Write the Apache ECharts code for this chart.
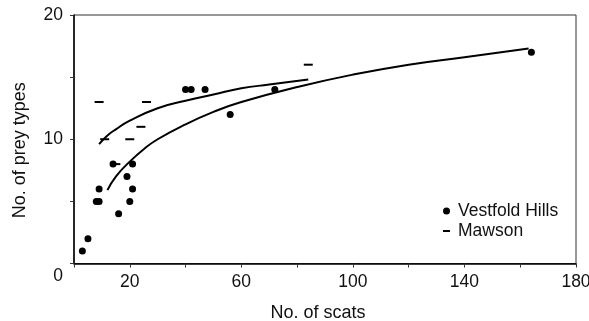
<!DOCTYPE html>
<html>
<head>
<meta charset="utf-8">
<script src="https://cdn.jsdelivr.net/npm/echarts@6/dist/echarts.min.js"></script>
<style>
html,body{margin:0;padding:0;background:#fff;}
#chart{width:589px;height:321px;}
</style>
</head>
<body>
<div id="chart"></div>
<script>
// Vestfold Hills observations
var vestfoldX = [3, 5, 8, 9, 9, 14, 16, 19, 20, 21, 21, 40, 42, 47, 56, 72, 164];
var vestfoldY = [1, 2, 5, 5, 6, 8, 4, 7, 5, 6, 8, 14, 14, 14, 12, 14, 17];
// Mawson observations
var mawsonX = [9, 26, 24, 11, 20, 15, 84];
var mawsonY = [13, 13, 11, 10, 10, 8, 16];
// fitted curves
var vestfoldFitX = [12, 15, 20, 25, 30, 40, 50, 60, 80, 100, 120, 140, 163];
var vestfoldFitY = [5.9, 7.0, 8.2, 9.2, 10.0, 11.2, 12.2, 13.0, 14.2, 15.2, 16.0, 16.6, 17.3];
var mawsonFitX = [9, 12, 15, 20, 30, 40, 50, 60, 70, 84];
var mawsonFitY = [9.6, 10.3, 10.8, 11.5, 12.5, 13.1, 13.6, 14.1, 14.4, 14.8];
// tick labels
var xTickLabels = [20, 60, 100, 140, 180];
var yTickLabels = [0, 10, 20];

function pairs(xs, ys) { return xs.map(function (x, i) { return [x, ys[i]]; }); }

var FONT = '"Liberation Sans", Arial, sans-serif';
var FS = 17.5;
var TXT = '#111';

var chart = echarts.init(document.getElementById('chart'));
chart.setOption({
  animation: false,
  backgroundColor: '#fff',
  textStyle: { fontFamily: FONT, color: TXT },
  grid: { left: 74, right: 13, top: 15, bottom: 57.5, show: true, borderColor: '#333', borderWidth: 1,
          containLabel: false, outerBoundsMode: 'none' },
  xAxis: {
    type: 'value', min: 0, max: 180, interval: 20,
    name: 'No. of scats', nameLocation: 'middle', nameGap: 41,
    nameTextStyle: { fontFamily: FONT, fontSize: 18, color: TXT, padding: [0, 14, 0, 0] },
    axisLine: { show: true, lineStyle: { color: '#000', width: 1.5 } },
    axisTick: { show: true, inside: false, length: 4, lineStyle: { color: '#333' } },
    axisLabel: {
      margin: 10, fontFamily: FONT, fontSize: FS, color: TXT,
      formatter: function (v) { return xTickLabels.indexOf(v) >= 0 ? String(v) : ''; }
    },
    splitLine: { show: false }
  },
  yAxis: {
    type: 'value', min: 0, max: 20, interval: 5,
    name: 'No. of prey types', nameLocation: 'middle', nameGap: 45, nameRotate: 90,
    nameTextStyle: { fontFamily: FONT, fontSize: 18, color: TXT, padding: [0, 22, 0, 0] },
    axisLine: { show: true, lineStyle: { color: '#000', width: 1.5 } },
    axisTick: { show: true, inside: false, length: 4, lineStyle: { color: '#333' } },
    axisLabel: {
      margin: 11, fontFamily: FONT, fontSize: FS, color: TXT,
      formatter: function (v) {
        if (yTickLabels.indexOf(v) < 0) return '';
        return v === 0 ? '{z|0}' : String(v);
      },
      rich: { z: { fontFamily: FONT, fontSize: FS, color: TXT, padding: [26, 0, 0, 0] } }
    },
    splitLine: { show: false }
  },
  legend: [
    {
      data: ['Vestfold Hills'], orient: 'vertical', left: 438, top: 196,
      icon: 'circle', itemWidth: 7, itemHeight: 7,
      textStyle: { fontFamily: FONT, fontSize: FS, color: TXT, lineHeight: 20, padding: [0, 0, 0, 3] }
    },
    {
      data: ['Mawson'], orient: 'vertical', left: 438, top: 216,
      icon: 'rect', itemWidth: 7, itemHeight: 2,
      textStyle: { fontFamily: FONT, fontSize: FS, color: TXT, lineHeight: 20, padding: [0, 0, 0, 3] }
    }
  ],
  series: [
    {
      name: 'Vestfold fit', type: 'line', smooth: true, showSymbol: false, symbol: 'none',
      lineStyle: { color: '#000', width: 2 }, data: pairs(vestfoldFitX, vestfoldFitY), z: 2
    },
    {
      name: 'Mawson fit', type: 'line', smooth: true, showSymbol: false, symbol: 'none',
      lineStyle: { color: '#000', width: 2 }, data: pairs(mawsonFitX, mawsonFitY), z: 2
    },
    {
      name: 'Vestfold Hills', type: 'scatter', symbol: 'circle', symbolSize: 7,
      itemStyle: { color: '#000', opacity: 1 }, data: pairs(vestfoldX, vestfoldY), z: 3
    },
    {
      name: 'Mawson', type: 'scatter', symbol: 'rect', symbolSize: [9, 2],
      itemStyle: { color: '#000', opacity: 1 }, data: pairs(mawsonX, mawsonY), z: 3
    }
  ]
});
</script>
</body>
</html>
